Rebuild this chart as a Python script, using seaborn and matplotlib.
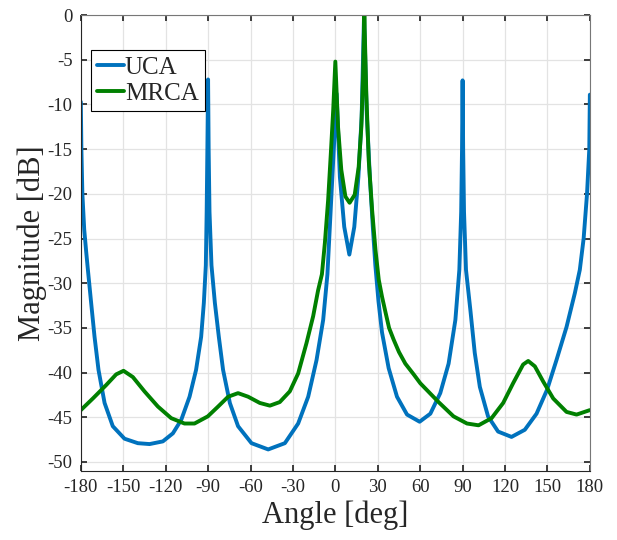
import pandas as pd
import seaborn as sns
import matplotlib.pyplot as plt

# values (angle in deg, magnitude in dB)
uca_angle = [-180, -179.6, -178.9, -177.6, -176.2, -175.0, -172.7, -170.3, -167.5, -163.2,
             -157.4, -149.1, -139.7, -131.4, -122, -114.9, -109, -103.1, -98.5, -94.9,
             -93, -91.6, -91.0, -90.5, -90, -89.6, -89.0, -87.6, -85.2, -82.4,
             -79.4, -74.6, -68.8, -59.3, -47.5, -35.7, -26.3, -19.2, -13.3, -8.6,
             -5.6, -3.9, -1.5, 0.9, 3.2, 6.3, 9.9, 13.4, 16.3, 18.6,
             20.3, 22.1, 24.4, 26.5, 28.3, 30.5, 33, 37.7, 43.6, 50.7,
             59.6, 67.2, 74.2, 80.1, 84.9, 87.7, 89.0, 89.6, 90, 90.4,
             91.0, 92.4, 95.5, 98.6, 102.2, 108, 115.1, 124.6, 134, 142.3,
             149.8, 156.4, 163.5, 169.4, 172.9, 175.6, 178, 179.6, 180]
uca_db = [-9.7, -15, -20, -24, -26.5, -28.5, -32.2, -36, -39.7, -43.4,
          -46, -47.4, -47.9, -48.0, -47.7, -46.8, -45.3, -42.7, -39.7, -36,
          -32.2, -28, -22, -15, -7.2, -15, -22, -28, -32.2, -36,
          -39.7, -43.4, -46, -47.9, -48.6, -47.9, -45.7, -42.7, -38.6, -34.1,
          -29, -23.7, -16.2, -8.8, -18.1, -23.7, -26.8, -23.7, -18.1, -11.4,
          0, -10.6, -18.1, -23.7, -28, -32, -35.5, -39.5, -42.7, -44.7,
          -45.5, -44.6, -42.3, -39, -34.1, -28.5, -22, -15, -7.3, -15,
          -22, -28.5, -33, -37.8, -41.6, -44.9, -46.6, -47.2, -46.4, -44.6,
          -41.9, -38.6, -34.9, -31.1, -28.5, -25, -20, -15, -8.9]

mrca_angle = [-180, -171.5, -162.1, -155, -149.8, -143.2, -135, -125.5, -116.1, -106.7,
              -99.6, -90.2, -82.9, -75.8, -68.8, -61.7, -53.4, -46.3, -39.3, -32.2,
              -26.3, -20.4, -15.7, -12.2, -9.5, -7.4, -5.1, -3.2, -1.5, 0,
              1.9, 4.2, 7.1, 10.1, 13.7, 16.5, 18.4, 19.6, 20.5, 21.9,
              23.6, 26, 28.4, 30.7, 33, 35.4, 38, 41.2, 45, 49.5,
              55.4, 60.1, 73, 83.6, 93.1, 101.3, 110.5, 118.7, 125.7, 132.8,
              136.4, 141.1, 147, 154.1, 163.5, 170.6, 180]
mrca_db = [-44.2, -42.9, -41.4, -40.2, -39.8, -40.5, -42.1, -43.8, -45.1, -45.7,
           -45.7, -44.9, -43.8, -42.7, -42.3, -42.7, -43.4, -43.7, -43.3, -42.1,
           -40.1, -36.7, -33.7, -30.8, -29, -25.5, -20.7, -15.5, -10.6, -5.2,
           -12.5, -17.3, -20.3, -21, -20.1, -17, -12.5, -6.9, 0, -8.8,
           -16.2, -21.8, -26.3, -29.6, -31.5, -33.2, -35, -36.3, -37.7, -39,
           -40.2, -41.2, -43.3, -44.9, -45.7, -45.9, -45.1, -43.4, -41.2, -39.1,
           -38.7, -39.3, -41, -42.9, -44.4, -44.7, -44.2]

df = pd.concat([
    pd.DataFrame({'Angle': uca_angle, 'dB': uca_db, 'Array': 'UCA'}),
    pd.DataFrame({'Angle': mrca_angle, 'dB': mrca_db, 'Array': 'MRCA'}),
])

sns.set_theme(style="whitegrid")
plt.rcParams['font.family'] = ['Liberation Serif', 'DejaVu Serif']
plt.rcParams['axes.unicode_minus'] = False

fig = plt.figure(figsize=(6.17, 5.4), dpi=100)
ax = fig.add_axes([0.131, 0.128, 0.825, 0.844])
sns.lineplot(data=df, x='Angle', y='dB', hue='Array', sort=False, estimator=None,
             palette={'UCA': '#0072BD', 'MRCA': '#008000'}, linewidth=2.8, ax=ax)

ax.set_xlim(-180, 180)
ax.set_ylim(-51, 0)
ax.set_xticks(range(-180, 181, 30))
ax.set_yticks(range(-50, 1, 5))
ax.tick_params(direction='in', length=4, labelsize=13.5, colors='#262626',
               top=True, right=True, bottom=True, left=True, pad=6)
ax.grid(True, color='#e3e3e3', linewidth=0.9)
for s in ax.spines.values():
    s.set_visible(True)
    s.set_color('#262626')
    s.set_linewidth(0.8)
ax.spines['top'].set_color('#777777')
ax.spines['right'].set_color('#777777')
ax.set_xlabel('Angle [deg]', fontsize=22, color='#262626', labelpad=3)
ax.set_ylabel('Magnitude [dB]', fontsize=22, color='#262626', labelpad=0)

leg = ax.legend(loc='upper left', bbox_to_anchor=(0.02, 0.923), fontsize=18,
                frameon=True, fancybox=False, edgecolor='black', framealpha=1,
                handlelength=1.05, handletextpad=0.05, borderpad=0.25,
                labelspacing=0.15, borderaxespad=0)
leg.get_frame().set_linewidth(0.8)

fig.savefig('out.png', dpi=100)
